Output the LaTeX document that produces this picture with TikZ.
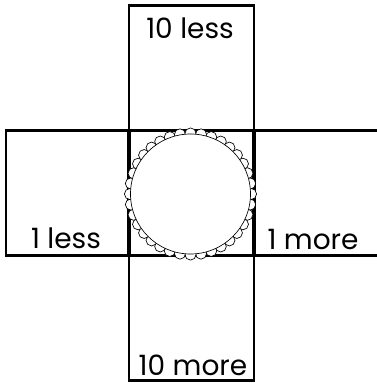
\documentclass[tikz,border=0pt]{standalone}
\usepackage{fontspec}
\setmainfont{Poppins}
\usetikzlibrary{positioning}

\begin{document}
\begin{tikzpicture}[x=0.75pt,y=-0.75pt,
  cell/.style={draw=black,line width=1.6pt,inner sep=0pt,outer sep=0pt,minimum width=93.75pt,minimum height=93.75pt},
  midcell/.style={cell,line width=2.4pt},
  tag/.style={font=\fontsize{21}{21}\selectfont,anchor=base,inner sep=0pt},
  scallop/.style={draw=black,line width=0.5pt,fill=white}]
\useasboundingbox (0,0) rectangle (376,383);
% the four outer squares round the middle one
\node[cell] (mid) at (191.5,193) {};
\node[cell,above=0pt of mid] (up) {};
\node[cell,below=0pt of mid] (down) {};
\node[cell,left=0pt of mid,minimum width=92.25pt] (west) {};
\node[cell,right=0pt of mid] (east) {};
\node[midcell] at (mid) {};
% scalloped circle
\coordinate (c) at (190.5,194);
\foreach \a in {0,10,...,350} {\path[scallop] (c) ++(\a:60.5) circle[radius=5.6];}
\path[scallop] (c) circle[radius=60];
% labels
\node[tag] (uptag) at (190,38) {10 less};
\node[tag] (westtag) at (66,248) {1 less};
\node[tag] (easttag) at (313,249) {1 more};
\node[tag] (downtag) at (193,375) {10 more};
\end{tikzpicture}
\end{document}
